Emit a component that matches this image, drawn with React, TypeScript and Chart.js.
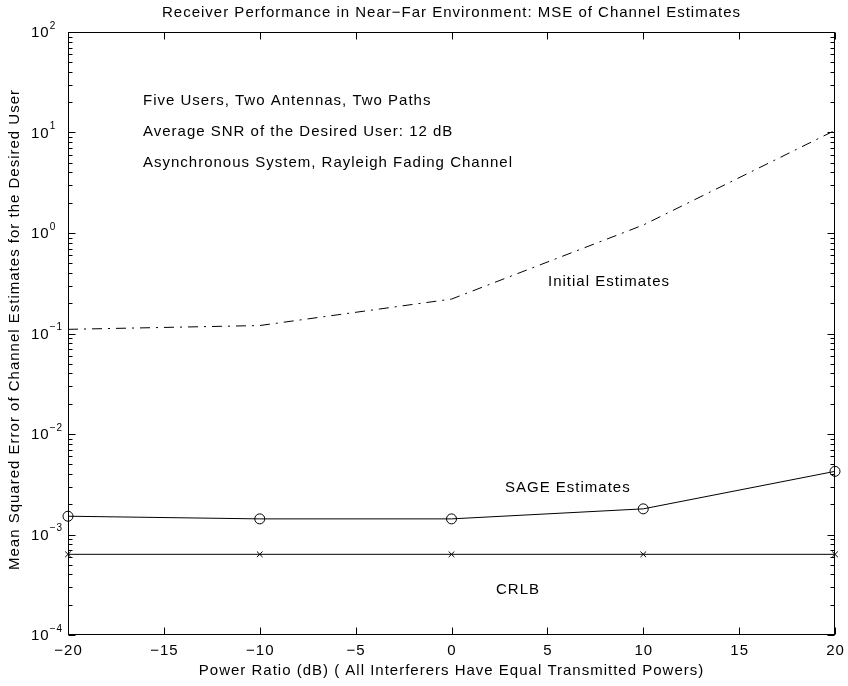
import { useEffect, useRef } from 'react';
import { Chart, registerables } from 'chart.js';

Chart.register(...registerables);

// Power ratio of interferers (dB)
const powerRatio = [-20, -10, 0, 10, 20];
// MSE of channel estimates for the desired user
const initialMse = [0.11, 0.12, 0.22, 1.2, 10.5];
const sageMse = [1.52e-3, 1.43e-3, 1.43e-3, 1.8e-3, 4.25e-3];
const crlbMse = [6.35e-4, 6.35e-4, 6.35e-4, 6.35e-4, 6.35e-4];

const xTickValues = [-20, -15, -10, -5, 0, 5, 10, 15, 20];
const yDecades = [-4, -3, -2, -1, 0, 1, 2];

const titleText = 'Receiver Performance in Near\u2212Far Environment: MSE of Channel Estimates';
const xLabel = 'Power Ratio (dB) ( All Interferers Have Equal Transmitted Powers)';
const yLabel = 'Mean Squared Error of Channel Estimates for the Desired User';
const noteLines = [
  'Five Users, Two Antennas, Two Paths',
  'Average SNR of the Desired User: 12 dB',
  'Asynchronous System, Rayleigh Fading Channel',
];

const FONT = "'Liberation Sans', Arial, Helvetica, sans-serif";

const pts = (ys: number[]) => powerRatio.map((x, i) => ({ x, y: ys[i] }));
const minus = (n: number) => (n < 0 ? '\u2212' + Math.abs(n) : String(n));

// Box frame, inward ticks, tick labels and all text annotations
const framePlugin = {
  id: 'framePlugin',
  afterDraw(chart: any) {
    const { ctx, chartArea: a } = chart;
    const xs = chart.scales.x;
    const ys = chart.scales.y;
    ctx.save();
    ctx.strokeStyle = '#000';
    ctx.fillStyle = '#000';
    ctx.lineWidth = 1;
    const L = Math.round(a.left) + 0.5;
    const R = Math.round(a.right) - 0.5;
    const T = Math.round(a.top) + 0.5;
    const B = Math.round(a.bottom) - 0.5;
    ctx.strokeRect(L, T, R - L, B - T);

    ctx.beginPath();
    const major = 7;
    const minor = 4;
    for (const v of xTickValues) {
      const px = Math.round(xs.getPixelForValue(v)) + 0.5;
      ctx.moveTo(px, B); ctx.lineTo(px, B - major);
      ctx.moveTo(px, T); ctx.lineTo(px, T + major);
    }
    for (const k of yDecades) {
      const py = Math.round(ys.getPixelForValue(Math.pow(10, k))) + 0.5;
      ctx.moveTo(L, py); ctx.lineTo(L + major, py);
      ctx.moveTo(R, py); ctx.lineTo(R - major, py);
      if (k < 2) {
        for (let m = 2; m <= 9; m++) {
          const pm = Math.round(ys.getPixelForValue(m * Math.pow(10, k))) + 0.5;
          ctx.moveTo(L, pm); ctx.lineTo(L + minor, pm);
          ctx.moveTo(R, pm); ctx.lineTo(R - minor, pm);
        }
      }
    }
    ctx.stroke();

    (ctx as any).letterSpacing = '1px';
    ctx.textBaseline = 'middle';

    // x tick labels
    ctx.font = `15px ${FONT}`;
    ctx.textAlign = 'center';
    for (const v of xTickValues) {
      ctx.fillText(minus(v), xs.getPixelForValue(v) + 0.5, 651);
    }

    // y tick labels as 10 with superscript exponent
    ctx.textAlign = 'left';
    for (const k of yDecades) {
      const py = ys.getPixelForValue(Math.pow(10, k));
      ctx.font = `15px ${FONT}`;
      ctx.fillText('10', 31, py + 1);
      const w = ctx.measureText('10').width;
      ctx.font = `10px ${FONT}`;
      ctx.fillText(minus(k), 31 + w, py - 6);
    }

    // title and axis titles
    const cx = (a.left + a.right) / 2;
    const cy = (a.top + a.bottom) / 2;
    ctx.font = `15px ${FONT}`;
    ctx.textAlign = 'center';
    ctx.fillText(titleText, cx, 13);
    ctx.fillText(xLabel, cx, 671);
    ctx.save();
    ctx.translate(15, cy - 4);
    ctx.rotate(-Math.PI / 2);
    ctx.fillText(yLabel, 0, 0);
    ctx.restore();

    // notes and curve labels
    ctx.textAlign = 'left';
    const noteY = [101, 132, 163];
    noteLines.forEach((t, i) => ctx.fillText(t, 143, noteY[i]));
    ctx.fillText('Initial Estimates', 548, 282);
    ctx.fillText('SAGE Estimates', 505, 488);
    ctx.fillText('CRLB', 496, 590);
    ctx.restore();
  },
};

export default function App() {
  const ref = useRef<HTMLCanvasElement>(null);

  useEffect(() => {
    document.body.style.margin = '0';
    const canvas = ref.current;
    if (!canvas) return;
    const chart = new Chart(canvas, {
      type: 'line',
      data: {
        datasets: [
          {
            label: 'Initial Estimates',
            data: pts(initialMse),
            borderColor: '#000',
            borderWidth: 1,
            borderDash: [10, 6, 2, 6],
            pointRadius: 0,
            fill: false,
            clip: false,
          },
          {
            label: 'SAGE Estimates',
            data: pts(sageMse),
            borderColor: '#000',
            borderWidth: 1,
            pointStyle: 'circle',
            pointRadius: 5,
            pointBorderColor: '#000',
            pointBackgroundColor: 'rgba(0,0,0,0)',
            pointBorderWidth: 1,
            fill: false,
            clip: false,
          },
          {
            label: 'CRLB',
            data: pts(crlbMse),
            borderColor: '#000',
            borderWidth: 1,
            pointStyle: 'crossRot',
            pointRadius: 4,
            pointBorderColor: '#000',
            pointBorderWidth: 1,
            fill: false,
            clip: false,
          },
        ],
      },
      options: {
        responsive: false,
        devicePixelRatio: 1,
        animation: false,
        events: [],
        layout: { padding: { left: 0, right: 13, top: 32, bottom: 0 } },
        plugins: {
          legend: { display: false },
          title: { display: false },
          tooltip: { enabled: false },
        },
        scales: {
          x: {
            type: 'linear',
            min: -20,
            max: 20,
            afterBuildTicks: (s: any) => {
              s.ticks = xTickValues.map((value) => ({ value }));
            },
            afterFit: (s: any) => {
              s.height = 51;
            },
            grid: { display: false, drawTicks: false },
            border: { display: false },
            ticks: { display: false },
          },
          y: {
            type: 'logarithmic',
            min: 1e-4,
            max: 100,
            afterFit: (s: any) => {
              s.width = 68;
            },
            grid: { display: false, drawTicks: false },
            border: { display: false },
            ticks: { display: false },
          },
        },
      } as any,
      plugins: [framePlugin],
    });
    return () => chart.destroy();
  }, []);

  return <canvas ref={ref} width={848} height={686} style={{ display: 'block' }} />;
}
